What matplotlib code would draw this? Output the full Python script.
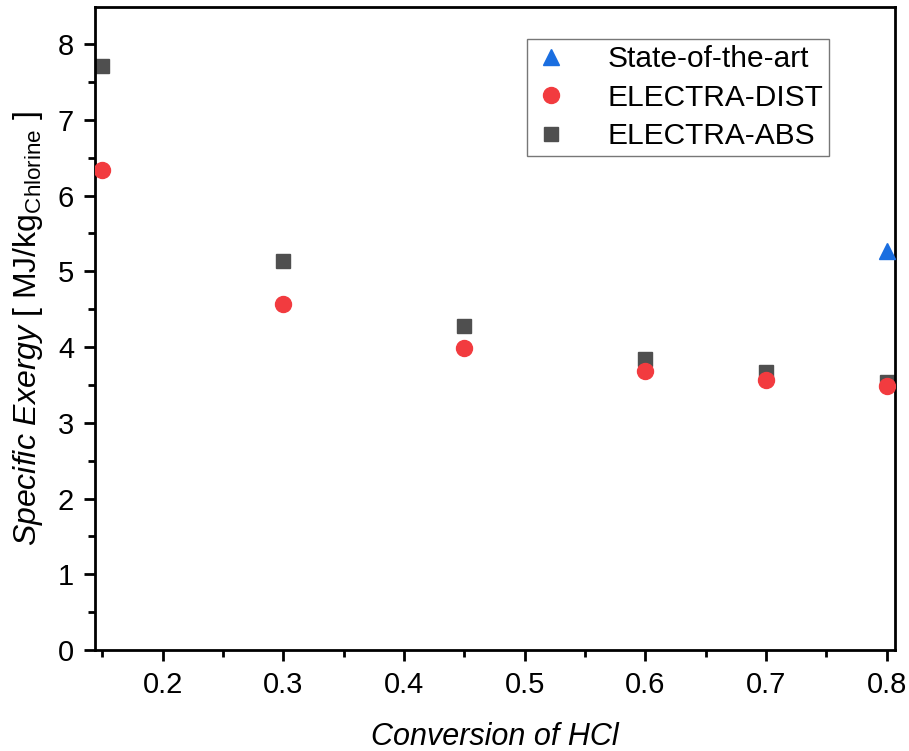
import matplotlib.pyplot as plt
from matplotlib.ticker import MultipleLocator

plt.rcParams['font.family'] = ['Liberation Sans', 'DejaVu Sans']
plt.rcParams['mathtext.fontset'] = 'custom'
plt.rcParams['mathtext.rm'] = 'Liberation Sans'
plt.rcParams['mathtext.it'] = 'Liberation Sans:italic'

conversion = [0.15, 0.3, 0.45, 0.6, 0.7, 0.8]
exergy_abs = [7.71, 5.14, 4.28, 3.84, 3.67, 3.54]
exergy_dist = [6.34, 4.57, 3.99, 3.69, 3.56, 3.48]
sota_x = [0.8]
sota_y = [5.27]

fig = plt.figure(figsize=(9.09, 7.51), dpi=100)
ax = fig.add_axes([0.1045, 0.1345, 0.8802, 0.8562])

ax.plot(sota_x, sota_y, linestyle='none', marker='^', markersize=11,
        color='#1a6ee0', label='State-of-the-art', zorder=3)
ax.plot(conversion, exergy_dist, linestyle='none', marker='o', markersize=11.5,
        color='#f23b3f', label='ELECTRA-DIST', zorder=3)
ax.plot(conversion, exergy_abs, linestyle='none', marker='s', markersize=9.5,
        color='#4f4f4f', label='ELECTRA-ABS', zorder=2)

ax.set_xlim(0.144, 0.807)
ax.set_ylim(0, 8.49)
ax.xaxis.set_major_locator(MultipleLocator(0.1))
ax.xaxis.set_minor_locator(MultipleLocator(0.05))
ax.yaxis.set_major_locator(MultipleLocator(1))
ax.yaxis.set_minor_locator(MultipleLocator(0.5))
ax.tick_params(which='major', direction='out', length=8, width=2, labelsize=21, pad=7)
ax.tick_params(which='minor', direction='out', length=5, width=2)
for s in ax.spines.values():
    s.set_linewidth(2)

ax.set_xlabel('Conversion of HCl', fontsize=22, style='italic', labelpad=17)
ax.set_ylabel(r'$\it{Specific\ Exergy}$ [ MJ/kg$_{\rm Chlorine}$ ]', fontsize=23, labelpad=9)

leg = ax.legend(loc='upper right', bbox_to_anchor=(0.9175, 0.95), fontsize=21.5,
                frameon=True, fancybox=False, handlelength=1.2, handletextpad=1.3,
                borderpad=0.2, labelspacing=0.35, borderaxespad=0)
leg.get_frame().set_edgecolor('#555555')
leg.get_frame().set_linewidth(1)

plt.savefig('out.png', dpi=100)
plt.close()
